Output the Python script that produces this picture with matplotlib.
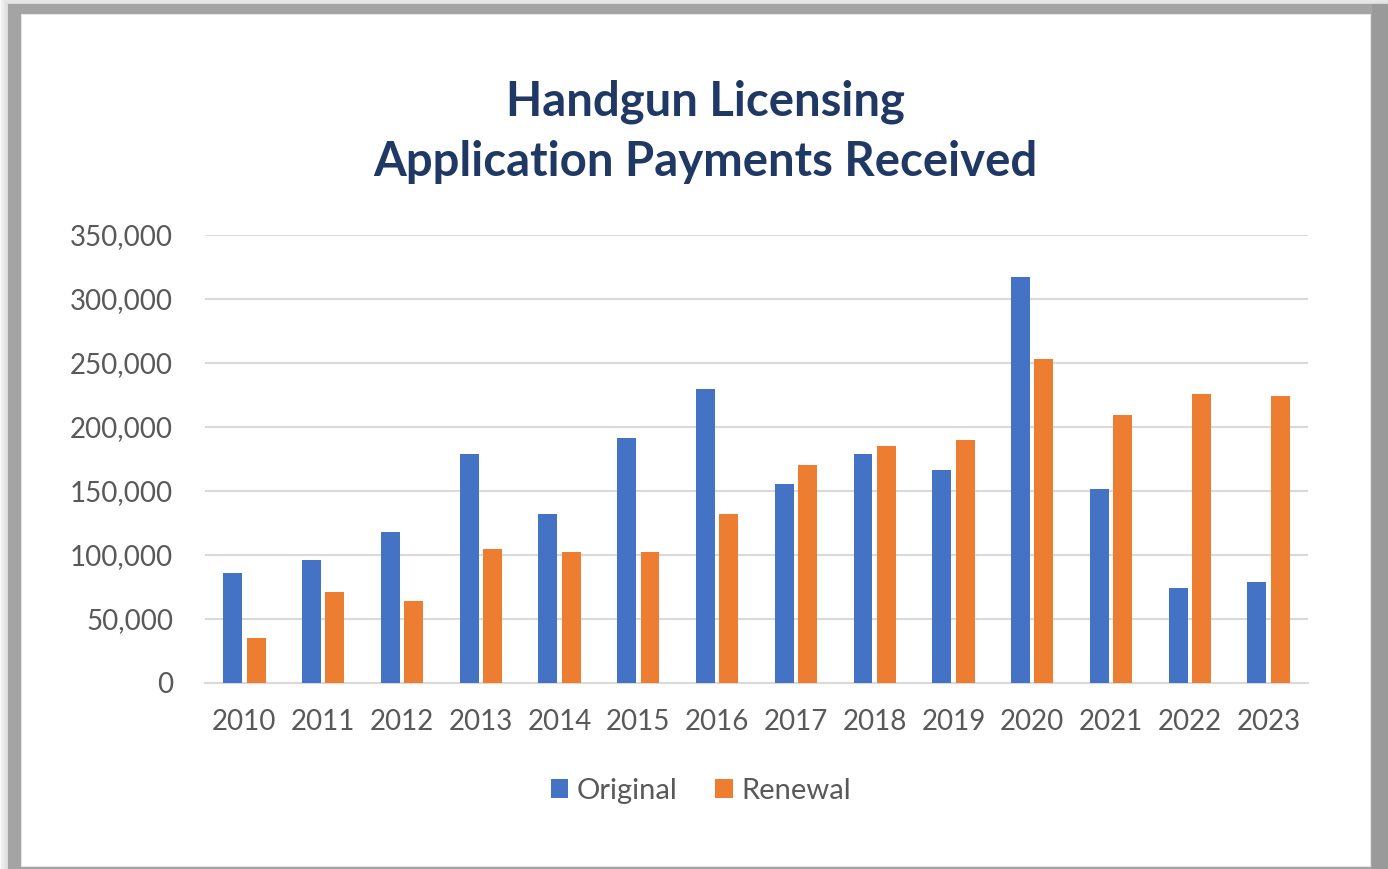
import matplotlib

matplotlib.use("Agg")
import matplotlib.pyplot as plt
import numpy as np
from matplotlib.patches import Rectangle
from matplotlib.ticker import FuncFormatter

YEARS = ["2010", "2011", "2012", "2013", "2014", "2015", "2016",
         "2017", "2018", "2019", "2020", "2021", "2022", "2023"]
ORIGINAL = [85500, 95900, 117300, 178600, 131900, 191300, 229600,
            155400, 178600, 166300, 316700, 151200, 74300, 79000]
RENEWAL = [34700, 70700, 64100, 104300, 102200, 102200, 131900,
           170200, 185000, 189200, 253000, 208800, 225500, 223600]
YTICKS = [0, 50000, 100000, 150000, 200000, 250000, 300000, 350000]

BLUE = "#4472C4"
ORANGE = "#ED7D31"
NAVY = "#1F3864"
TICK = "#595959"
GRID = "#D9D9D9"

W, H = 1388, 869
plt.rcParams["font.family"] = ["Lato", "DejaVu Sans"]

fig = plt.figure(figsize=(W / 100, H / 100), dpi=100, facecolor="white")


def px_rect(x0, y0, x1, y1, **kw):
    # rectangle given in image pixels (origin top-left) -> figure fraction
    fig.patches.append(Rectangle((x0 / W, 1 - y1 / H), (x1 - x0) / W, (y1 - y0) / H,
                                 transform=fig.transFigure, lw=0, **kw))


# soft grey frame with a little shadow around it, then the white chart area
for i in range(6, 0, -1):
    px_rect(8 - i * 1.5, 4 - i * 1.2, W + 5, H + 5, color="#888888", alpha=0.05, zorder=0)
px_rect(8, 4, W + 5, H + 5, color="#a4a4a4", zorder=1)
px_rect(1372, 4, W + 5, H + 5, color="#9a9a9a", zorder=1)
px_rect(21, 14, 1371, 867, color="#e6e6e6", zorder=2)
px_rect(22, 15, 1370, 866, color="white", zorder=3)

ax = fig.add_axes([205 / W, 1 - 682.7 / H, (1308 - 205) / W, (682.7 - 234.5) / H])
ax.set_facecolor("none")
ax.set_zorder(5)

x = np.arange(len(YEARS))
bw = 0.24
off = 0.148
ax.bar(x - off, ORIGINAL, bw, color=BLUE, label="Original", zorder=3)
ax.bar(x + off, RENEWAL, bw, color=ORANGE, label="Renewal", zorder=3)

ax.set_xlim(-0.5, len(YEARS) - 0.5)
ax.set_ylim(0, 350000)
ax.set_yticks(YTICKS)
ax.yaxis.set_major_formatter(FuncFormatter(lambda v, _: f"{int(v):,}"))
ax.set_xticks(x)
ax.set_xticklabels(YEARS)
ax.tick_params(axis="y", length=0, pad=23, labelsize=20, labelcolor=TICK)
ax.tick_params(axis="x", length=0, pad=19, labelsize=20, labelcolor=TICK)
ax.grid(True, axis="y", color=GRID, lw=1.5)
ax.set_axisbelow(True)
for s in ("top", "right", "left"):
    ax.spines[s].set_visible(False)
ax.spines["bottom"].set_color(GRID)
ax.spines["bottom"].set_linewidth(1.5)

fig.text(0.508, 1 - 132 / H, "Handgun Licensing\nApplication Payments Received",
         ha="center", va="center", fontsize=34, fontweight="bold", color=NAVY,
         linespacing=1.45, zorder=6)

fig.legend(loc="center", bbox_to_anchor=(0.505, 1 - 791 / H), ncol=2, frameon=False,
           fontsize=21, labelcolor=TICK, handlelength=0.6, handleheight=0.6,
           handletextpad=0.3, columnspacing=1.3)

fig.savefig("out.png", dpi=100, facecolor="white")
